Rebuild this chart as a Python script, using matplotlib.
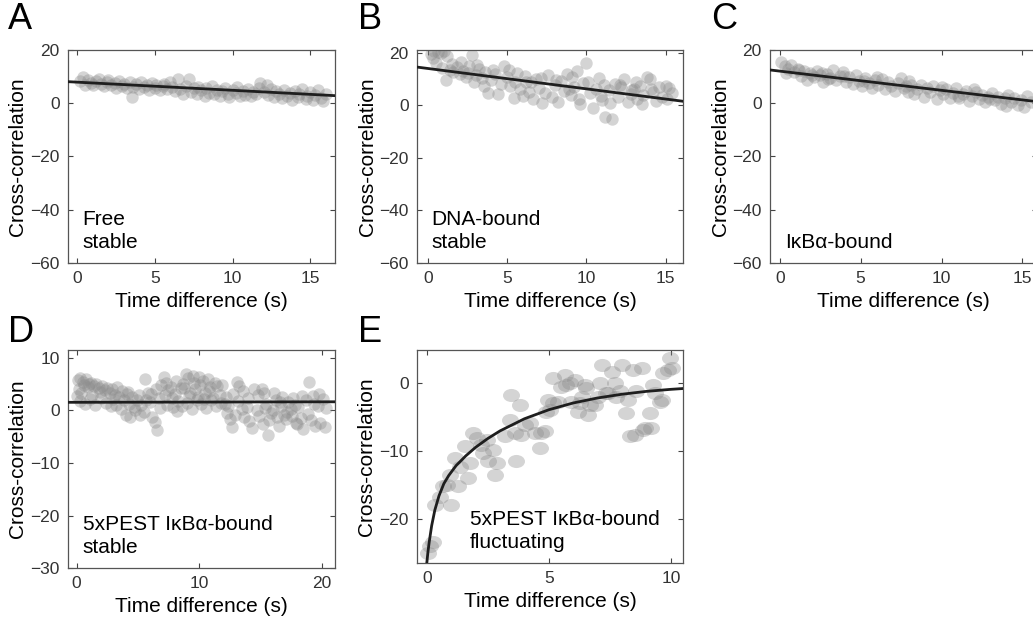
import matplotlib
matplotlib.use("Agg")
import matplotlib.pyplot as plt
from matplotlib.path import Path
from matplotlib.transforms import Affine2D

plt.rcParams['font.family'] = ['Liberation Sans', 'DejaVu Sans']

# ---- datos ----
# A: Free stable
a_x = [0.2, 0.4, 0.5, 0.7, 0.9, 1.0, 1.2, 1.4, 1.5, 1.7, 1.9, 2.0, 2.2, 2.4, 2.5, 2.7, 2.9, 3.0, 3.2, 3.4,
       3.5, 3.6, 3.8, 4.0, 4.1, 4.3, 4.5, 4.6, 4.8, 5.0, 5.1, 5.3, 5.5, 5.6, 5.8, 6.0, 6.1, 6.3, 6.5, 6.6,
       6.8, 7.0, 7.2, 7.3, 7.5, 7.7, 7.8, 8.0, 8.2, 8.3, 8.5, 8.7, 8.8, 9.0, 9.2, 9.3, 9.5, 9.7, 9.8, 10.0,
       10.2, 10.3, 10.5, 10.7, 10.8, 11.0, 11.2, 11.3, 11.5, 11.7, 11.8, 12.0, 12.2, 12.3, 12.5, 12.7, 12.8, 13.0, 13.2, 13.3,
       13.5, 13.7, 13.8, 14.0, 14.2, 14.3, 14.5, 14.7, 14.8, 15.0, 15.2, 15.3, 15.5, 15.7, 15.8, 16.0]
a_y = [8.5, 9.8, 7.0, 8.9, 7.6, 6.8, 8.3, 9.1, 7.2, 6.5, 7.9, 8.6, 6.9, 7.7, 5.9, 8.2, 6.6, 7.4, 5.6, 8.0,
       2.4, 6.2, 7.1, 5.3, 7.8, 6.0, 6.9, 5.1, 7.5, 5.8, 6.7, 4.9, 6.3, 7.3, 5.4, 8.1, 6.0, 4.6, 9.0, 5.5,
       3.5, 6.4, 9.1, 4.2, 5.6, 3.4, 6.1, 4.8, 2.9, 5.7, 4.0, 6.3, 3.3, 5.1, 2.6, 4.5, 5.9, 3.6, 2.4, 5.0,
       3.9, 6.2, 2.8, 4.6, 3.2, 5.3, 2.7, 4.1, 3.5, 5.8, 7.6, 4.4, 6.9, 3.0, 5.4, 2.3, 4.7, 3.6, 1.9, 4.9,
       2.8, 3.9, 1.4, 4.6, 2.5, 3.3, 5.2, 1.6, 2.9, 4.2, 1.2, 3.0, 4.8, 2.1, 0.9, 3.5]
a_fit_x = [-0.6, 16.6]
a_fit_y = [8.1, 2.85]

# B: DNA-bound stable
b_x = [0.2, 0.4, 0.6, 0.8, 1.0, 0.3, 0.5, 1.2, 1.4, 0.9, 1.1, 1.6, 1.8, 2.0, 2.2, 2.4, 2.6, 2.8, 2.5, 3.0,
       3.2, 3.4, 3.6, 3.8, 4.0, 4.2, 4.4, 4.6, 4.8, 5.0, 5.2, 5.4, 5.6, 5.8, 6.0, 6.2, 6.4, 6.6, 6.8, 7.0,
       7.2, 7.4, 7.6, 7.8, 8.0, 8.2, 8.4, 8.6, 8.8, 9.0, 9.2, 9.4, 9.6, 9.8, 10.0, 10.2, 10.4, 10.6, 10.8, 11.0,
       11.2, 11.4, 11.6, 11.8, 12.0, 12.2, 12.4, 12.6, 12.8, 13.0, 13.2, 13.4, 13.6, 13.8, 14.0, 14.2, 14.4, 14.6, 14.8, 15.0,
       15.2, 15.4, 1.5, 2.1, 3.1, 4.1, 5.1, 6.1, 6.5, 7.1, 8.1, 9.1, 10.1, 11.1, 12.1, 13.1, 14.1, 15.1, 5.5, 3.5,
       9.5, 11.5, 13.5, 2.9, 8.9, 10.9, 12.9]
b_y = [19.5, 20.8, 20.3, 19.8, 20.5, 17.8, 16.2, 18.6, 13.5, 14.2, 9.6, 12.8, 14.6, 11.9, 13.2, 10.8, 14.9, 19.0, 12.3, 11.4,
       13.7, 10.2, 12.6, 4.5, 9.4, 11.8, 4.2, 8.1, 15.0, 10.9, 7.2, 2.9, 12.1, 6.0, 3.4, 8.7, 5.1, 2.2, 9.9, 6.5,
       0.8, 4.6, 11.3, 3.1, 7.8, 1.4, 9.2, 5.5, 12.0, 3.8, 7.0, 13.1, 0.5, 8.4, 16.0, 4.7, -1.2, 6.3, 10.4, 2.0,
       -4.6, 5.6, -5.4, 8.0, 3.0, 6.9, 9.8, 1.1, 4.3, 6.2, 2.5, 7.3, 4.0, 10.8, 10.0, 5.1, 1.6, 6.9, 3.3, 7.2,
       6.4, 4.8, 15.8, 16.5, 15.2, 13.5, 13.4, 11.2, 9.0, 10.3, 9.5, 10.7, 8.8, 7.8, 7.5, 8.8, 6.1, 2.4, 8.9, 7.4,
       2.5, 1.0, 0.3, 8.7, 6.3, 3.6, 5.6]
b_fit_x = [-0.7, 16.1]
b_fit_y = [14.5, 1.5]

# C: IkBa-bound
c_x = [0.1, 0.3, 0.5, 0.7, 0.9, 1.1, 1.3, 1.5, 1.7, 1.9, 2.1, 2.3, 2.5, 2.7, 2.9, 3.1, 3.3, 3.5, 3.7, 3.9,
       4.1, 4.3, 4.5, 4.7, 4.9, 5.1, 5.3, 5.5, 5.7, 5.9, 6.1, 6.3, 6.5, 6.7, 6.9, 7.1, 7.3, 7.5, 7.7, 7.9,
       8.1, 8.3, 8.5, 8.7, 8.9, 9.1, 9.3, 9.5, 9.7, 9.9, 10.1, 10.3, 10.5, 10.7, 10.9, 11.1, 11.3, 11.5, 11.7, 11.9,
       12.1, 12.3, 12.5, 12.7, 12.9, 13.1, 13.3, 13.5, 13.7, 13.9, 14.1, 14.3, 14.5, 14.7, 14.9, 15.1, 15.3, 15.5, 0.4, 1.2,
       2.0, 3.0, 4.0, 6.0, 8.0, 10.0, 12.0, 14.0, 2.6, 5.2, 7.8, 11.0, 13.0]
c_y = [15.6, 13.8, 12.9, 14.2, 11.6, 13.0, 10.4, 12.2, 8.6, 11.5, 9.8, 12.0, 10.6, 7.9, 11.1, 9.5, 12.4, 8.7, 10.2, 11.8,
       8.1, 9.9, 7.2, 10.6, 8.5, 6.4, 9.3, 7.6, 5.7, 8.8, 7.0, 9.2, 5.4, 7.9, 6.3, 4.7, 7.5, 9.3, 5.9, 4.1,
       6.8, 3.6, 5.2, 7.0, 2.3, 5.6, 4.2, 6.4, 1.6, 4.8, 3.3, 5.2, 2.1, 3.9, 5.6, 1.8, 3.5, 4.6, 0.9, 2.8,
       4.1, 1.6, 3.2, 0.4, 2.5, 3.8, 1.1, 2.2, -0.3, 1.9, 3.0, 0.6, 2.0, -0.6, 1.2, -1.3, 2.6, 0.3, 11.2, 12.6,
       10.7, 9.0, 10.1, 9.8, 8.2, 6.2, 5.3, -1.1, 11.3, 8.2, 6.5, 2.6, 1.5]
c_fit_x = [-0.6, 15.9]
c_fit_y = [12.5, 0.6]

# D: 5xPEST IkBa-bound stable
d_x = [0.1, 0.3, 0.5, 0.6, 0.8, 1.0, 0.2, 0.4, 0.9, 1.2, 1.4, 1.6, 1.8, 0.3, 0.7, 1.1, 1.5, 1.9, 0.0, 1.3,
       2.1, 2.3, 2.5, 2.7, 2.9, 3.1, 3.3, 3.5, 3.7, 3.9, 4.1, 4.3, 4.5, 4.7, 4.9, 2.4, 2.8, 3.2, 3.6, 4.0,
       4.4, 4.8, 2.0, 3.0, 4.2,
       5.1, 5.3, 5.5, 5.6, 5.8, 6.0, 6.2, 6.4, 6.6, 6.8, 6.5, 6.9, 5.2, 5.7, 6.1, 6.7,
       7.1, 7.3, 7.5, 7.7, 7.9, 8.1, 8.3, 8.5, 8.7, 8.9, 9.1, 9.3, 9.5, 9.7, 9.9, 10.1, 10.3, 10.5, 10.7, 10.9,
       11.1, 11.3, 11.5, 11.7, 11.9, 7.4, 7.8, 8.2, 8.6, 9.0, 9.4, 9.8, 10.2, 10.6, 11.0, 11.4, 11.8, 8.0, 9.2, 10.4,
       7.2, 8.8, 9.6, 10.0, 10.8,
       12.1, 12.3, 12.5, 12.7, 12.4, 12.9, 13.1, 13.3, 13.2, 13.5, 13.7, 13.9, 14.1, 14.3, 14.0, 14.5, 14.7, 14.9, 12.8, 13.6,
       14.8, 12.2,
       15.1, 15.3, 15.5, 15.7, 15.9, 16.1, 16.3, 16.5, 16.7, 16.9, 17.1, 17.3, 17.5, 17.7, 17.9, 15.2, 15.6, 16.0, 16.4, 16.8,
       17.2, 17.6, 15.4, 16.6, 17.8,
       18.1, 18.3, 18.5, 18.7, 18.9, 19.1, 19.3, 19.5, 19.7, 19.9, 20.1, 20.3, 19.0, 19.4, 18.4, 19.8, 20.4, 18.0]
d_y = [5.8, 6.2, 5.5, 4.8, 5.9, 5.1, 4.0, 3.3, 4.4, 5.3, 4.7, 5.0, 4.2, 1.8, 1.2, 2.1, 1.0, 3.6, 2.8, 3.0,
       4.6, 3.9, 4.3, 3.4, 4.1, 3.0, 4.4, 2.5, 3.8, 2.0, 3.2, 1.2, 2.6, 0.6, 1.9, 1.5, 0.8, 1.1, 0.2, -0.9,
       -1.2, 0.1, 2.4, 2.2, 3.6,
       2.9, 1.0, -0.3, 5.9, 3.4, 1.6, -1.3, -2.2, -3.8, 0.4, 4.0, 4.8, -0.8, 2.0, 3.1, 2.3,
       6.3, 5.2, 3.9, 4.5, 0.6, 5.7, 1.8, 4.2, 5.0, 7.0, 6.1, 3.4, 6.6, 4.0, 2.6, 4.9, 5.6, 3.3, 6.0, 4.4,
       2.3, 5.3, 4.6, 3.0, 4.9, 1.0, 2.4, -0.1, 0.9, 1.5, 0.2, 2.0, 1.2, 0.4, 1.9, 0.8, 1.5, 3.2, 2.8, 2.2,
       3.0, 4.3, 5.2, 6.4, 3.8,
       1.3, -0.4, -1.6, -3.2, 0.9, -0.8, 5.4, 4.7, 1.8, 0.2, -1.2, 0.7, -2.0, -3.4, 2.4, 4.1, 0.0, -1.0, 3.2, 3.7,
       3.0, 2.6,
       4.0, 3.3, 1.2, -1.9, -0.4, 3.4, 2.0, -2.9, 0.9, -0.9, -1.7, 1.6, 0.3, 2.4, -2.3, -2.6, -4.6, 0.1, -1.3, 2.6,
       -0.3, -1.1, 0.5, 1.7, 1.0,
       0.6, -1.4, -3.6, 1.9, -0.6, -1.8, 2.7, -3.0, 0.8, -2.4, 2.2, -3.2, 5.4, 1.3, 2.8, 3.2, 0.4, -2.6]
d_fit_x = [-0.7, 21.1]
d_fit_y = [1.55, 1.65]

# E: 5xPEST IkBa-bound fluctuating
e_x = [0.03, 0.12, 0.26, 0.33, 0.53, 0.67, 0.81, 1.01, 0.94, 1.15, 1.28, 1.35, 1.56, 1.69, 1.76, 1.90, 2.04, 2.24, 2.31, 2.45,
       2.51, 2.72, 2.79, 2.86, 3.20, 3.40, 3.47, 3.67, 3.81, 3.61, 3.88, 4.02, 4.22, 4.43, 4.63, 4.70, 4.84, 4.90, 4.97, 5.04,
       5.18, 5.18, 5.38, 5.52, 5.66, 5.72, 5.86, 5.93, 6.07, 6.20, 6.27, 6.34, 6.48, 6.54, 6.61, 6.68, 6.89, 7.02, 7.09, 7.16,
       7.36, 7.43, 7.57, 7.70, 7.77, 7.91, 7.98, 8.18, 8.25, 8.32, 8.46, 8.52, 8.59, 8.80, 8.87, 8.93, 9.14, 9.20, 9.28, 9.34,
       9.55, 9.62, 9.69, 9.89, 9.96, 10.03]
e_y = [-25.0, -24.0, -23.4, -17.9, -16.7, -15.2, -15.0, -17.9, -13.5, -11.0, -15.2, -12.3, -9.3, -14.0, -11.8, -7.4, -8.1, -9.1, -10.3, -8.3,
       -11.5, -9.8, -13.5, -11.8, -7.8, -5.4, -1.7, -11.5, -3.2, -7.4, -7.6, -6.1, -5.9, -7.4, -9.6, -7.4, -7.1, -4.2, -2.5, -3.9,
       0.7, -2.9, -2.7, -0.5, 1.2, -0.2, 0.0, -2.7, 0.5, -4.2, -2.9, -2.0, -0.2, -0.7, -4.7, -3.2, -3.2, -2.0, 0.0, 2.7,
       -1.5, -1.5, 1.7, 0.0, -2.0, -1.2, 2.7, -4.4, -2.5, -7.8, 2.0, -7.6, -1.2, 2.2, -6.9, -6.6, -4.4, -6.6, -0.2, -1.5,
       -2.7, -2.5, 1.5, 2.0, 3.7, 2.2]
e_fit_x = [0.0, 0.05, 0.1, 0.2, 0.33, 0.5, 0.7, 0.9, 1.2, 1.6, 2.0, 2.5, 3.0, 4.0, 5.0, 6.0, 7.0, 8.0, 9.0, 10.0, 10.5]
e_fit_y = [-26.5, -24.8, -23.4, -21.0, -18.7, -16.6, -14.8, -13.6, -12.15, -10.7, -9.45, -8.15, -7.03, -5.24, -3.91,
           -2.91, -2.17, -1.62, -1.2, -0.9, -0.78]

# ---- estilo ----
PUNTO = '#8a8a8a'
LINEA = '#1e1e1e'

fig = plt.figure(figsize=(10.33, 6.21), dpi=100)


def panel(rect, x, y, fx, fy, xlim, ylim, xticks, yticks, texto, tx=0.055, marker='o', s=80):
    ax = fig.add_axes(rect)
    ax.scatter(x, y, s=s, color=PUNTO, alpha=0.36, linewidths=0, marker=marker, zorder=2)
    ax.plot(fx, fy, color=LINEA, lw=2.0, zorder=3)
    ax.set_xlim(xlim)
    ax.set_ylim(ylim)
    ax.set_xticks(xticks)
    ax.set_yticks(yticks)
    ax.tick_params(direction='in', top=True, right=True, length=3.5, width=0.8,
                   labelsize=12.5, labelcolor='#333333', color='#444444', pad=6)
    for sp in ax.spines.values():
        sp.set_color('#555555')
        sp.set_linewidth(0.9)
    ax.set_xlabel('Time difference (s)', fontsize=15, labelpad=4)
    ax.set_ylabel('Cross-correlation', fontsize=15, labelpad=2)
    ax.text(tx, 0.05, texto, transform=ax.transAxes, fontsize=15, ha='left', va='bottom',
            linespacing=1.3, zorder=4)
    return ax


panel([0.0658, 0.5765, 0.2585, 0.3430], a_x, a_y, a_fit_x, a_fit_y, (-0.6, 16.6), (-60, 20),
      [0, 5, 10, 15], [-60, -40, -20, 0, 20], 'Free\nstable')
panel([0.4037, 0.5765, 0.2575, 0.3430], b_x, b_y, b_fit_x, b_fit_y, (-0.7, 16.1), (-60, 21),
      [0, 5, 10, 15], [-60, -40, -20, 0, 20], 'DNA-bound\nstable')
panel([0.7454, 0.5765, 0.2585, 0.3430], c_x, c_y, c_fit_x, c_fit_y, (-0.6, 15.9), (-60, 20),
      [0, 5, 10, 15], [-60, -40, -20, 0, 20], 'IκBα-bound')
panel([0.0658, 0.0853, 0.2585, 0.3510], d_x, d_y, d_fit_x, d_fit_y, (-0.7, 21.1), (-30, 11.5),
      [0, 10, 20], [-30, -20, -10, 0, 10], '5xPEST IκBα-bound\nstable')

# marcador eliptico para el panel E
elipse = Path.unit_circle().transformed(Affine2D().scale(1.3, 1.0))
panel([0.4037, 0.0934, 0.2575, 0.3430], e_x, e_y, e_fit_x, e_fit_y, (-0.4, 10.5), (-26.5, 4.9),
      [0, 5, 10], [-20, -10, 0], '5xPEST IκBα-bound\nfluctuating', tx=0.2, marker=elipse, s=150)

# letras de los paneles
for letra, px, py in [('A', 0.008, 0.997), ('B', 0.347, 0.997), ('C', 0.688, 0.997),
                      ('D', 0.008, 0.492), ('E', 0.347, 0.492)]:
    fig.text(px, py, letra, fontsize=26, ha='left', va='top')

fig.savefig('out.png', dpi=100)
